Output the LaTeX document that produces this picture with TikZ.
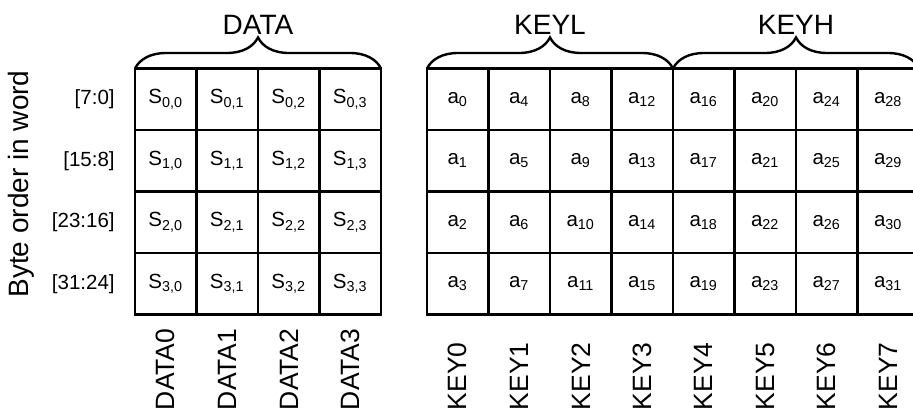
\documentclass[tikz,border=0pt]{standalone}
\usepackage{fontspec}
\setmainfont{Liberation Sans}
\usetikzlibrary{positioning, decorations.pathreplacing}

\begin{document}
\begin{tikzpicture}[x=0.5pt, y=-0.5pt]

        % Setup the styles for cells, braces and labels
        \tikzset{cell style/.style={draw,
                                    line width=1.2pt,
                                    minimum width=30.75pt,
                                    minimum height=30.75pt,
                                    inner sep=0pt,
                                    outer sep=0pt,
                                    font=\fontsize{10.25}{12}\selectfont},
                 brace style/.style={decorate,
                                     decoration={brace, amplitude=15.5pt},
                                     line width=1.2pt},
                 title style/.style={inner sep=0pt,
                                     font=\fontsize{14}{16}\selectfont},
                 row style/.style={inner sep=0pt,
                                   font=\fontsize{10.25}{12}\selectfont},
                 word style/.style={rotate=90,
                                    anchor=west,
                                    inner sep=0pt,
                                    font=\fontsize{13.25}{15}\selectfont}}

        \clip (0,0) rectangle (913,412);

        % Draw the data cells
        \foreach \r in {0,...,3}
          \foreach \c in {0,...,3}
            \node[cell style] (d-\r-\c) at ({165.75+61.5*\c}, {99.25+61.5*\r}) {S\textsubscript{\r,\c}};

        % Draw the key cells
        \foreach \r in {0,...,3}
          \foreach \c in {0,...,7} {
            \pgfmathtruncatemacro{\idx}{\r+4*\c}
            \node[cell style] (k-\r-\c) at ({457.75+61.5*\c}, {99.25+61.5*\r}) {a\textsubscript{\idx}};
          }

        % Byte ranges of each row
        \foreach \r/\bits in {0/{[7:0]}, 1/{[15:8]}, 2/{[23:16]}, 3/{[31:24]}}
          \node[row style, left=10pt of d-\r-0] (bits-\r) {\bits};
        \node[title style, rotate=90] (order) at (21, 184) {Byte order in word};

        % Braces over the groups
        \draw[brace style] (d-0-0.north west) -- (d-0-3.north east)
            node[title style, midway, above=16.5pt] (data) {DATA};
        \draw[brace style] (k-0-0.north west) -- (k-0-3.north east)
            node[title style, midway, above=16.5pt] (keyl) {KEYL};
        \draw[brace style] (k-0-4.north west) -- (k-0-7.north east)
            node[title style, midway, above=16.5pt] (keyh) {KEYH};

        % Register names under the columns
        \foreach \c in {0,...,3}
          \node[word style] (dw-\c) at ([yshift=-48pt]d-3-\c.south) {DATA\c};
        \foreach \c in {0,...,7}
          \node[word style] (kw-\c) at ([yshift=-48pt]k-3-\c.south) {KEY\c};

\end{tikzpicture}
\end{document}
